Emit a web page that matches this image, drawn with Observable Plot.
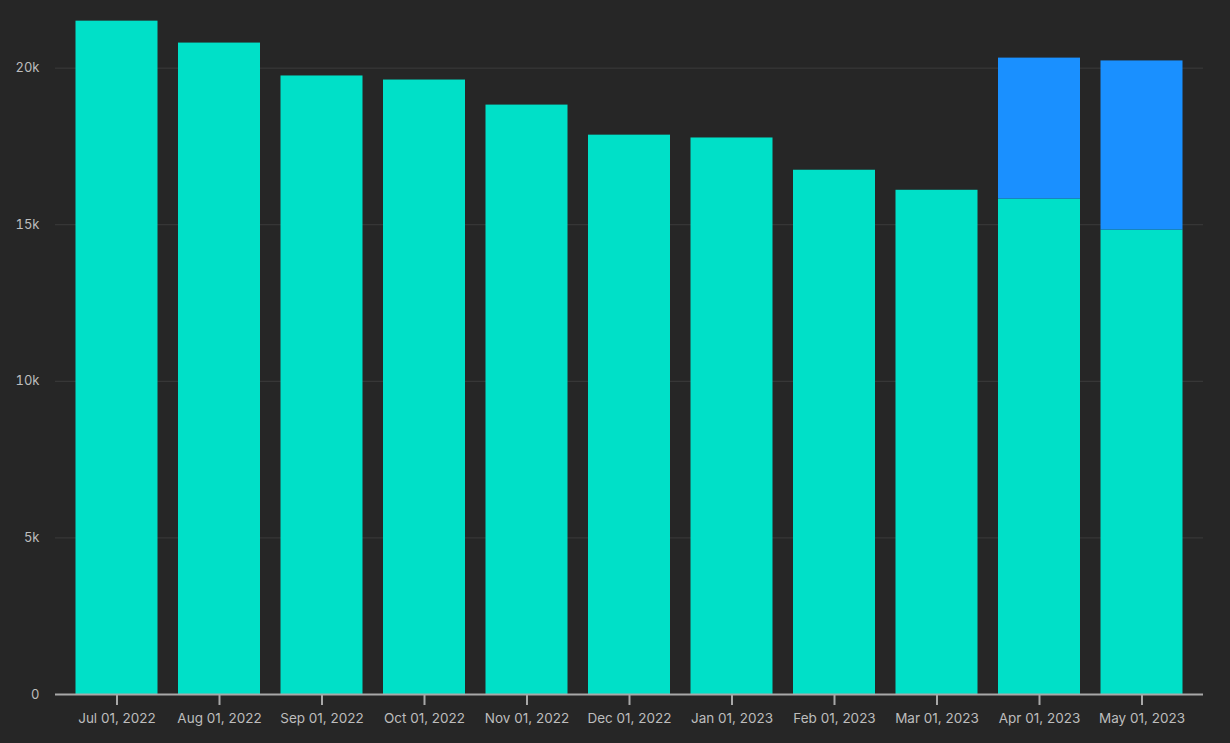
<!DOCTYPE html>
<html>
<head>
<meta charset="utf-8">
<script src="https://cdn.jsdelivr.net/npm/d3@7"></script>
<script src="https://cdn.jsdelivr.net/npm/@observablehq/plot@0.6"></script>
<style>
  html, body { margin: 0; padding: 0; background: #262626; }
  #chart { width: 1230px; height: 743px; }
</style>
</head>
<body>
<div id="chart"></div>
<script>
const months = ["Jul 01, 2022","Aug 01, 2022","Sep 01, 2022","Oct 01, 2022","Nov 01, 2022","Dec 01, 2022","Jan 01, 2023","Feb 01, 2023","Mar 01, 2023","Apr 01, 2023","May 01, 2023"];
const seriesA = [21500, 20800, 19750, 19620, 18820, 17860, 17770, 16740, 16100, 15820, 14830];
const seriesB = [0, 0, 0, 0, 0, 0, 0, 0, 0, 4500, 5400];
const seriesNames = ["A", "B"];
const colors = ["#00E0C8", "#1A90FF"];
const yTicks = [0, 5000, 10000, 15000, 20000];

const rows = [];
months.forEach((m, i) => {
  rows.push({month: m, series: seriesNames[0], value: seriesA[i]});
  if (seriesB[i] > 0) rows.push({month: m, series: seriesNames[1], value: seriesB[i]});
});

const chart = Plot.plot({
  width: 1230,
  height: 743,
  marginLeft: 55,
  marginRight: 27,
  marginTop: 5,
  marginBottom: 49,
  style: {background: "#262626", color: "#bdbdbd", fontFamily: "Inter, sans-serif", fontSize: "13px"},
  x: {domain: months, padding: 0.2, round: false, label: null},
  y: {domain: [0, 22000], label: null},
  color: {domain: seriesNames, range: colors},
  marks: [
    Plot.gridY(yTicks, {stroke: "#3c3c3c", strokeOpacity: 1, strokeWidth: 1}),
    Plot.barY(rows, {x: "month", y: "value", fill: "series", order: seriesNames}),
    Plot.ruleY([0], {stroke: "#a8a8a8", strokeWidth: 2}),
    Plot.axisY(yTicks, {tickFormat: d => d === 0 ? "0" : (d / 1000) + "k", tickSize: 0, tickPadding: 16, fill: "#bdbdbd", fontSize: 13}),
    Plot.axisX({tickSize: 11, stroke: "#a8a8a8", strokeWidth: 2, tickPadding: 8, fill: "#bdbdbd", fontSize: 13.5})
  ]
});
document.getElementById("chart").appendChild(chart);
</script>
</body>
</html>
